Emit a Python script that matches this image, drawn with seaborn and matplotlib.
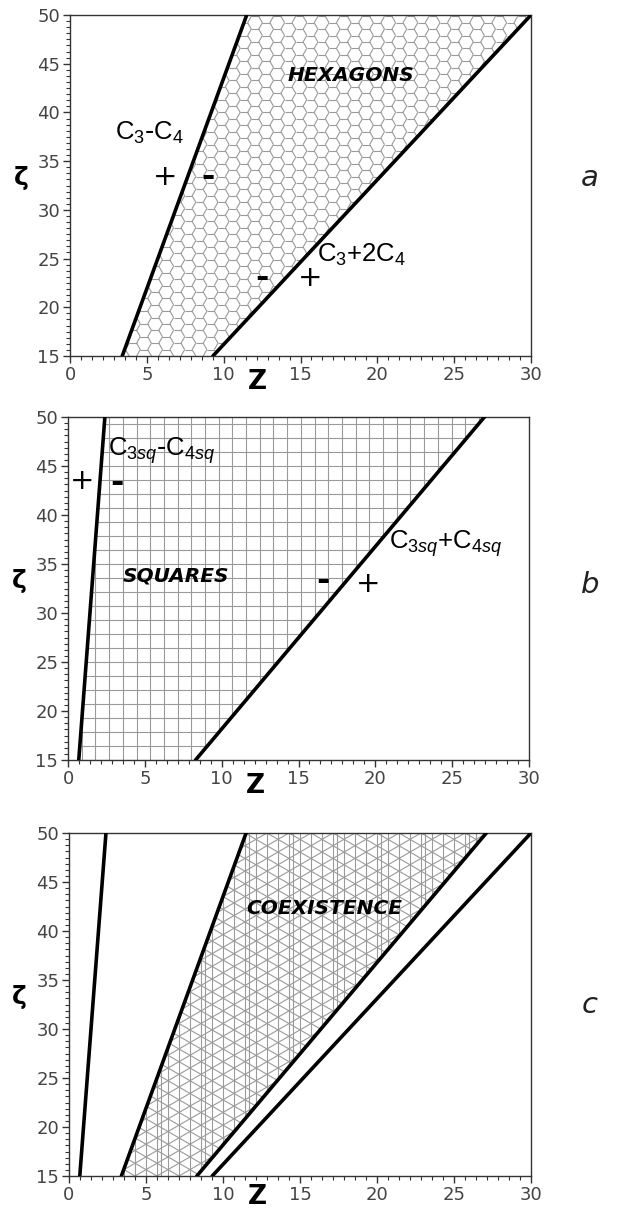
import numpy as np
import matplotlib
matplotlib.use("Agg")
import matplotlib.pyplot as plt
import seaborn as sns
from matplotlib.collections import LineCollection
from matplotlib.patches import Polygon
from matplotlib.ticker import MultipleLocator
from matplotlib import font_manager

# ---------------- data ----------------
zeta_ends = [15.0, 50.0]          # boundary lines run from zeta=15 to zeta=50

# hexagon stability boundaries (Z at zeta = 15 and 50)
hex_left_z = [3.4, 11.5]          # C3 - C4
hex_right_z = [9.3, 30.0]         # C3 + 2C4
# square stability boundaries
sq_left_z = [0.7, 2.4]            # C3sq - C4sq
sq_right_z = [8.3, 27.1]          # C3sq + C4sq

z_ticks = [0, 5, 10, 15, 20, 25, 30]
zeta_ticks = [15, 20, 25, 30, 35, 40, 45, 50]
panel_letters = ["a", "b", "c"]
region_names = ["HEXAGONS", "SQUARES", "COEXISTENCE"]

# ---------------- style ----------------
sns.set_style("ticks")
names = {f.name for f in font_manager.fontManager.ttflist}
narrow = "Liberation Sans Narrow" if "Liberation Sans Narrow" in names else "Liberation Sans"
plt.rcParams["font.family"] = ["DejaVu Sans"]
plt.rcParams["text.color"] = "black"
plt.rcParams["mathtext.fontset"] = "custom"
plt.rcParams["mathtext.rm"] = narrow
plt.rcParams["mathtext.it"] = narrow + ":italic"

W, H = 623, 1210
fig = plt.figure(figsize=(W / 100, H / 100), dpi=100)

# axes rectangles in pixels: left, top, right, bottom
rects = [(70, 15, 531, 356), (68, 417, 529, 760), (69, 833, 531, 1176)]
axes = []
for (l, t, r, b) in rects:
    ax = fig.add_axes([l / W, 1 - b / H, (r - l) / W, (b - t) / H])
    axes.append(ax)

tex_color = "#9a9a9a"
tex_lw = 0.8


def to_data(ax, segs):
    inv = ax.transData.inverted()
    out = []
    for (p, q) in segs:
        a, b2 = inv.transform([p, q])
        out.append([a, b2])
    return out


def hex_texture(ax, r=7.4):
    x0, y0, x1, y1 = ax.bbox.extents
    h = np.sqrt(3) * r
    segs = []
    ang = np.deg2rad([0, 60, 120, 180])
    i = 0
    cx = x0 - 2 * r
    while cx < x1 + 2 * r:
        cy = y0 - 2 * h + (i % 2) * h / 2
        while cy < y1 + 2 * h:
            pts = [(cx + r * np.cos(a), cy + r * np.sin(a)) for a in ang]
            for k in range(3):
                segs.append([pts[k], pts[k + 1]])
            cy += h
        cx += 1.5 * r
        i += 1
    return to_data(ax, segs)


def square_texture(ax, dx=13.7, dy=14.0):
    x0, y0, x1, y1 = ax.bbox.extents
    segs = []
    x = x0
    while x < x1:
        segs.append([(x, y0), (x, y1)])
        x += dx
    y = y0
    while y < y1:
        segs.append([(x0, y), (x1, y)])
        y += dy
    return to_data(ax, segs)


def tri_texture(ax, d=11.0):
    x0, y0, x1, y1 = ax.bbox.extents
    segs = []
    k = 0
    x = x0
    while x < x1:
        segs.append([(x, y0), (x, y1)])
        if k % 4 == 0:
            segs.append([(x + 4, y0), (x + 4, y1)])
        x += d
        k += 1
    span = (x1 - x0) + (y1 - y0) * 2
    for sgn in (1, -1):
        direction = np.array([np.cos(np.deg2rad(30)), sgn * np.sin(np.deg2rad(30))])
        normal = np.array([-direction[1], direction[0]])
        c = np.array([(x0 + x1) / 2, (y0 + y1) / 2])
        n = int(span / d) + 2
        for j in range(-n, n + 1):
            base = c + normal * j * d
            segs.append([tuple(base - direction * span), tuple(base + direction * span)])
    return to_data(ax, segs)


def region(ax, left, right, segs):
    verts = [(left[0], zeta_ends[0]), (left[1], zeta_ends[1]),
             (right[1], zeta_ends[1]), (right[0], zeta_ends[0])]
    patch = Polygon(verts, closed=True, facecolor="none", edgecolor="none")
    ax.add_patch(patch)
    lc = LineCollection(segs, colors=tex_color, linewidths=tex_lw, zorder=1)
    ax.add_collection(lc)
    lc.set_clip_path(patch)


def boundary(ax, zs):
    sns.lineplot(x=zs, y=zeta_ends, ax=ax, color="black", linewidth=2.6,
                 sort=False, estimator=None, zorder=3)


def style_axes(ax, zlabel_y):
    ax.set_xlim(0, 30)
    ax.set_ylim(15, 50)
    ax.set_xticks(z_ticks)
    ax.set_yticks(zeta_ticks)
    ax.xaxis.set_minor_locator(MultipleLocator(5 / 7))
    ax.yaxis.set_minor_locator(MultipleLocator(5 / 8))
    ax.tick_params(which="major", direction="out", length=5, width=1,
                   color="#333333", labelsize=13, labelcolor="#444444", pad=2)
    ax.tick_params(which="minor", direction="out", length=3, width=0.8,
                   color="#333333")
    for s in ax.spines.values():
        s.set_visible(True)
        s.set_color("#333333")
        s.set_linewidth(1.0)
    ax.set_xlabel("")
    ax.set_ylabel("")
    ax.text(12.2, zlabel_y, "Z", fontsize=19, fontweight="bold", ha="center",
            va="center", clip_on=False)
    ax.text(-3.2, 33.3, "ζ", fontsize=18, fontweight="bold", ha="center",
            va="center", clip_on=False)


for ax, zy in zip(axes, [12.3, 12.3, 12.9]):
    style_axes(ax, zy)

big = dict(fontsize=14.5, fontweight="heavy", fontstyle="italic",
           ha="center", va="center", zorder=5, color="black")
lab = dict(fontsize=18.5, ha="left", va="center", zorder=5)
plus = dict(fontsize=21, ha="center", va="center", zorder=5)
minus = dict(fontsize=23, fontweight="heavy", ha="center", va="center", zorder=5)

# ---- panel a: hexagons ----
ax = axes[0]
region(ax, hex_left_z, hex_right_z, hex_texture(ax))
boundary(ax, hex_left_z)
boundary(ax, hex_right_z)
ax.text(18.3, 43.8, region_names[0], **big)
ax.text(2.9, 37.9, r"$\mathrm{C_3}$-$\mathrm{C_4}$", **lab)
ax.text(16.1, 25.4, r"$\mathrm{C_3{+}2C_4}$", **lab)
ax.text(6.2, 33.4, "+", **plus)
ax.text(9.0, 33.3, "-", **minus)
ax.text(12.5, 23.0, "-", **minus)
ax.text(15.6, 23.0, "+", **plus)

# ---- panel b: squares ----
ax = axes[1]
region(ax, sq_left_z, sq_right_z, square_texture(ax))
boundary(ax, sq_left_z)
boundary(ax, sq_right_z)
ax.text(7.0, 33.8, region_names[1], **big)
ax.text(2.6, 46.6, r"$\mathrm{C}_{\mathit{3sq}}$-$\mathrm{C}_{\mathit{4sq}}$", **lab)
ax.text(20.9, 37.1, r"$\mathrm{C}_{\mathit{3sq}}{+}\mathrm{C}_{\mathit{4sq}}$", **lab)
ax.text(0.9, 43.5, "+", **plus)
ax.text(3.2, 43.2, "-", **minus)
ax.text(16.6, 33.2, "-", **minus)
ax.text(19.5, 33.0, "+", **plus)

# ---- panel c: coexistence ----
ax = axes[2]
region(ax, hex_left_z, sq_right_z, tri_texture(ax))
for zs in (sq_left_z, hex_left_z, sq_right_z, hex_right_z):
    boundary(ax, zs)
ax.text(16.6, 42.3, region_names[2], **big)

# panel letters
for letter, ypix in zip(panel_letters, [178, 585, 1005]):
    fig.text(590 / W, 1 - ypix / H, letter, fontsize=21, fontstyle="italic",
             ha="center", va="center", color="#222222")

fig.savefig("out.png", dpi=100)
